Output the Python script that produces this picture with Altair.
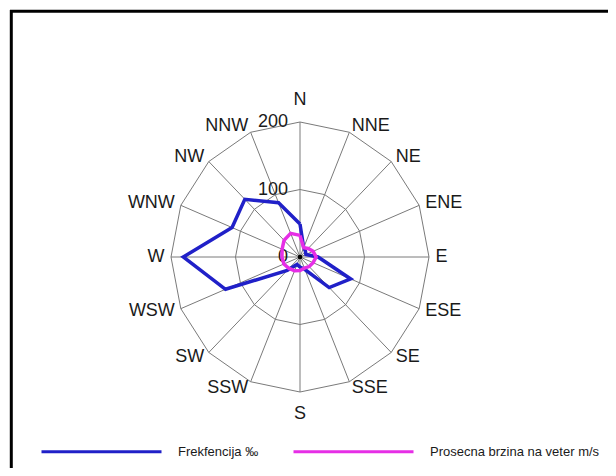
import math
import altair as alt
import pandas as pd

# ---- data ----
directions = ["N", "NNE", "NE", "ENE", "E", "ESE", "SE", "SSE",
              "S", "SSW", "SW", "WSW", "W", "WNW", "NW", "NNW"]
frequency = [49, 15, 12, 10, 28, 85, 64, 20, 15, 12, 28, 125, 181, 114, 121, 87]
avg_speed = [32, 15, 18, 22, 25, 22, 20, 18, 20, 22, 24, 27, 28, 30, 35, 38]
ring_values = [100, 200]
radial_values = [0, 100, 200]
radial_labels = ["0", "100", "200"]
series_names = ["Frekfencija \u2030", "Prosecna brzina na veter m/s"]
series_colors = ["#2020c8", "#e62ee6"]

R_MAX = 200
LABEL_R_SIDE = 210
LABEL_R_POLE = 232
STEP = 360.0 / len(directions)


def polar(r, i):
    a = math.radians(i * STEP)
    return r * math.sin(a), r * math.cos(a)


# series polygons (closed)
rows = []
for name, vals in zip(series_names, [frequency, avg_speed]):
    for k in range(len(directions) + 1):
        i = k % len(directions)
        x, y = polar(vals[i], i)
        rows.append({"series": name, "dir": directions[i], "order": k, "x": x, "y": y})
series_df = pd.DataFrame(rows)

# grid rings
ring_rows = []
for rv in ring_values:
    for k in range(len(directions) + 1):
        i = k % len(directions)
        x, y = polar(rv, i)
        ring_rows.append({"ring": rv, "order": k, "x": x, "y": y})
ring_df = pd.DataFrame(ring_rows)

# spokes
spoke_rows = []
for i, d in enumerate(directions):
    x2, y2 = polar(R_MAX, i)
    spoke_rows.append({"dir": d, "x": 0.0, "y": 0.0, "x2": x2, "y2": y2})
spoke_df = pd.DataFrame(spoke_rows)

# direction labels
lab_rows = []
for i, d in enumerate(directions):
    s = math.sin(math.radians(i * STEP))
    if abs(s) < 0.01:
        side = "pole"
        x, y = polar(LABEL_R_POLE, i)
    else:
        side = "east" if s > 0 else "west"
        x, y = polar(LABEL_R_SIDE, i)
    lab_rows.append({"dir": d, "side": side, "x": x, "y": y})
lab_df = pd.DataFrame(lab_rows)

radial_df = pd.DataFrame({"label": radial_labels, "value": radial_values})

# ---- scales ----
W, H = 600, 460
PX_X, PX_Y = 0.645, 0.675
CX, CY = 292, 249
xdom = [-CX / PX_X, (W - CX) / PX_X]
ydom = [-(H - CY) / PX_Y, CY / PX_Y]
xs = alt.Scale(domain=xdom, nice=False, zero=False)
ys = alt.Scale(domain=ydom, nice=False, zero=False)

X = lambda f="x": alt.X(f"{f}:Q", scale=xs, axis=None)
Y = lambda f="y": alt.Y(f"{f}:Q", scale=ys, axis=None)

FONT = "Liberation Sans"
GRID = "#7a7a7a"
TXT = "#1a1a1a"

spokes = alt.Chart(spoke_df).mark_rule(color=GRID, strokeWidth=1).encode(
    x=X(), y=Y(), x2="x2:Q", y2="y2:Q"
)
rings = alt.Chart(ring_df).mark_line(color=GRID, strokeWidth=1).encode(
    x=X(), y=Y(), detail="ring:N", order="order:Q"
)

color = alt.Color(
    "series:N",
    scale=alt.Scale(domain=series_names, range=series_colors),
    legend=alt.Legend(
        orient="none", legendX=32, legendY=382, direction="horizontal",
        title=None, symbolType="stroke", symbolSize=14400, symbolStrokeWidth=3,
        labelFont=FONT, labelFontSize=13, labelColor=TXT,
        labelOffset=15, columnPadding=28, padding=0, symbolOffset=0,
        labelLimit=400,
    ),
)

freq_line = alt.Chart(series_df).transform_filter(
    alt.datum.series == series_names[0]
).mark_line(strokeWidth=3.5).encode(x=X(), y=Y(), color=color, order="order:Q")

speed_line = alt.Chart(series_df).transform_filter(
    alt.datum.series == series_names[1]
).mark_line(strokeWidth=3.5).encode(x=X(), y=Y(), color=color, order="order:Q")

center = alt.Chart(pd.DataFrame({"x": [0.0], "y": [0.0]})).mark_point(
    filled=True, color="black", size=22, opacity=1
).encode(x=X(), y=Y())

def dir_text(side, align):
    return alt.Chart(lab_df).transform_filter(alt.datum.side == side).mark_text(
        align=align, baseline="middle", font=FONT, fontSize=18, color=TXT
    ).encode(x=X(), y=Y(), text="dir:N")

lab_e = dir_text("east", "left")
lab_w = dir_text("west", "right")
lab_p = dir_text("pole", "center")

radial_text = alt.Chart(radial_df).mark_text(
    align="right", baseline="middle", dx=-12, font=FONT, fontSize=18, color=TXT
).encode(x=alt.X("zero:Q", scale=xs, axis=None), y=Y("value"), text="label:N").transform_calculate(
    zero="0"
)

frame_df = pd.DataFrame({"a": [0]})
frame_left = alt.Chart(frame_df).mark_rule(color="black", strokeWidth=3).encode(
    x=alt.value(3.3), y=alt.value(2), y2=alt.value(470)
)
frame_top = alt.Chart(frame_df).mark_rule(color="black", strokeWidth=3).encode(
    x=alt.value(2), x2=alt.value(610), y=alt.value(3.3)
)

chart = alt.layer(
    spokes, rings, radial_text, freq_line, speed_line, center,
    lab_e, lab_w, lab_p, frame_left, frame_top
).properties(
    width=W, height=H, padding=0,
    autosize=alt.AutoSizeParams(type="none"),
    background="white",
).configure_view(stroke=None)

chart.save("out.html", embed_options={"renderer": "svg", "actions": False})
